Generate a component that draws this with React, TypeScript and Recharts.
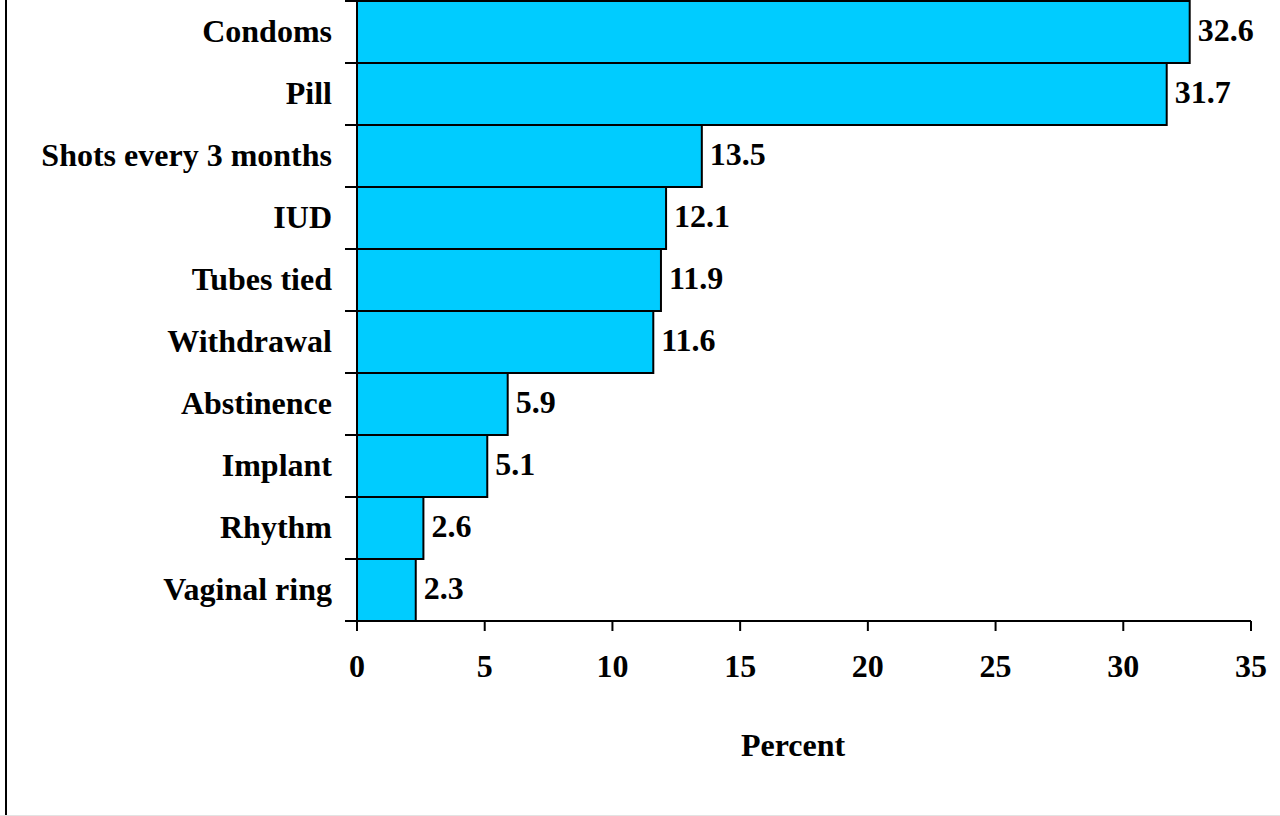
import { BarChart, Bar, XAxis, YAxis, LabelList, Label } from 'recharts'

const methods = [
  'Condoms', 'Pill', 'Shots every 3 months', 'IUD', 'Tubes tied',
  'Withdrawal', 'Abstinence', 'Implant', 'Rhythm', 'Vaginal ring',
]
const percents = [32.6, 31.7, 13.5, 12.1, 11.9, 11.6, 5.9, 5.1, 2.6, 2.3]
const xTicks = [0, 5, 10, 15, 20, 25, 30, 35]

const font = '"Liberation Serif", "Times New Roman", serif'

const data = methods.map((m, i) => ({ method: m, value: percents[i] }))

// category label plus tick marks at the band edges
function MethodTick(props: any) {
  const { x, y, payload, index } = props
  const half = payload.offset ?? 0
  const lx1 = x + 13
  const lx2 = lx1 + 12
  return (
    <g>
      <line x1={lx1} x2={lx2} y1={y - half} y2={y - half} stroke="#000" strokeWidth={2} />
      {index === methods.length - 1 && (
        <line x1={lx1} x2={lx2} y1={y + half} y2={y + half} stroke="#000" strokeWidth={2} />
      )}
      <text x={x} y={y} dy="0.3em" textAnchor="end" fontFamily={font} fontWeight="bold" fontSize={32} fill="#000">
        {payload.value}
      </text>
    </g>
  )
}

export default function App() {
  return (
    <div style={{ position: 'absolute', left: 0, top: 0, width: 1280, height: 816, background: '#fff' }}>
      <div style={{ position: 'absolute', left: 5, top: 0, width: 2, height: 816, background: '#000' }} />
      <div style={{ position: 'absolute', left: 0, top: 815, width: 1280, height: 1, background: '#e3e3e3' }} />
      <BarChart
        width={1280}
        height={816}
        data={data}
        layout="vertical"
        barCategoryGap={0}
        margin={{ top: 1, right: 29, left: 0, bottom: 95 }}
        style={{ position: 'absolute', left: 0, top: 0 }}
      >
        <XAxis
          type="number"
          domain={[0, 35]}
          ticks={xTicks}
          interval={0}
          height={100}
          tickSize={10}
          tickMargin={23}
          axisLine={{ stroke: '#000', strokeWidth: 2 }}
          tickLine={{ stroke: '#000', strokeWidth: 2 }}
          tick={{ fontFamily: font, fontWeight: 'bold', fontSize: 32, fill: '#000' }}
        >
          <Label
            value="Percent"
            position="bottom"
            offset={12}
            dx={-11}
            style={{ fontFamily: font, fontWeight: 'bold', fontSize: 32, fill: '#000' }}
          />
        </XAxis>
        <YAxis
          type="category"
          dataKey="method"
          width={357}
          interval={0}
          tickSize={12}
          tickMargin={13}
          tickLine={false}
          axisLine={{ stroke: '#000', strokeWidth: 2 }}
          tick={<MethodTick />}
        />
        <Bar dataKey="value" fill="#00ccff" stroke="#000" strokeWidth={2} isAnimationActive={false}>
          <LabelList
            dataKey="value"
            position="right"
            offset={8}
            dy={-2}
            formatter={(v: any) => Number(v).toFixed(1)}
            style={{ fontFamily: font, fontWeight: 'bold', fontSize: 32, fill: '#000' }}
          />
        </Bar>
      </BarChart>
    </div>
  )
}
